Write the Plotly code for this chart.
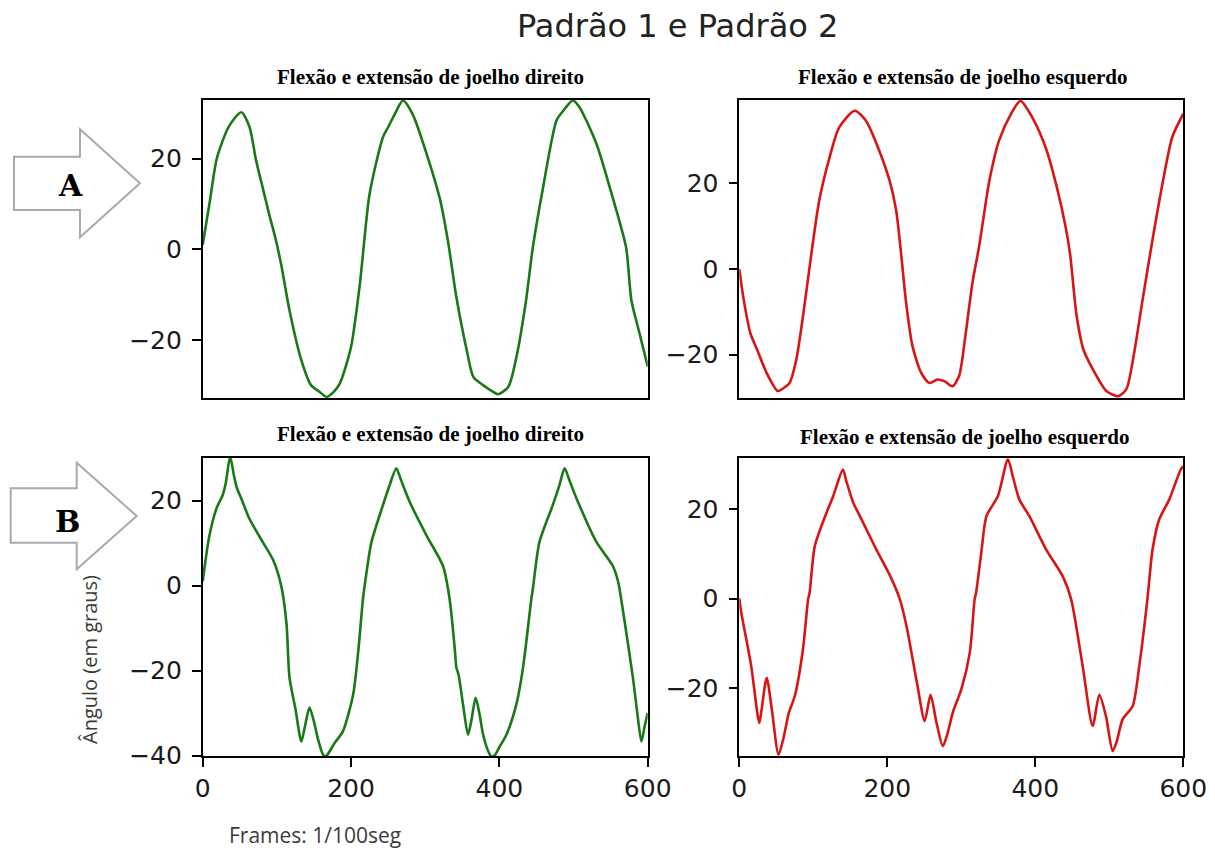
import plotly.graph_objects as go

# ---------------- data (frames, angle in degrees) ----------------
# Pattern A, right knee
a_dir_x = [0, 10, 19, 35, 52, 63, 72, 81, 90, 98, 106, 117, 133, 146, 157, 167, 176, 185, 200, 212, 225,
           243, 250, 259, 270, 283, 302, 320, 331, 342, 356, 365, 378, 390, 398, 412, 423, 436, 445,
           459, 477, 486, 499, 508, 531, 550, 556, 571, 578, 589, 600]
a_dir_y = [1, 11, 20, 27, 30.2, 27, 19.6, 13.5, 7.5, 2.5, -3.5, -13.4, -24.4, -29.9, -31.3, -32.5, -31.5,
           -29.5, -21.5, -7.5, 12.2, 24.7, 26.9, 29.8, 32.8, 29.8, 21, 11, 1.5, -10.5, -22.2, -28.1,
           -29.9, -31.2, -31.9, -30.3, -23.7, -11.2, 0.3, 13.7, 28.4, 30.5, 32.8, 31.3, 23.2, 13, 9.6,
           0.3, -11.2, -18.5, -25.8]

# Pattern A, left knee
a_esq_x = [0, 6, 15, 24, 37, 52, 60, 68, 77, 86, 95, 108, 122, 135, 156, 171, 189, 203, 212, 219,
           225, 234, 246, 257, 268, 277, 288, 297, 306, 315, 324, 338, 351, 367, 380, 396, 414, 428,
           441, 447, 456, 465, 478, 496, 512, 523, 532, 545, 556, 571, 585, 600]
a_esq_y = [0, -7.2, -15, -18.8, -24.3, -28.5, -27.8, -26.6, -21.2, -11.1, 0.5, 16, 26.1, 33.1, 37,
           34.7, 27.7, 20.7, 13.7, 3, -7.2, -18, -24.3, -26.6, -25.8, -26.2, -27.4, -25, -15, -3.3, 5.2,
           20.7, 30, 36.2, 39.3, 35.4, 28.4, 19.9, 9.8, 3.5, -11.1, -18.8, -23.5, -28.5, -29.7, -28.1,
           -21.2, -7.2, 4.4, 19.1, 30.8, 36.3]

# Pattern B, right knee
b_dir_x = [0, 9, 18.5, 27, 31, 37, 42, 46, 52, 63, 81, 95, 106, 113, 117, 125, 133, 138, 144, 150,
           156, 163, 167, 178, 189, 203, 210, 216, 220, 227.5, 243, 252, 261, 266, 270, 279, 302, 324,
           333, 340, 342, 345, 351, 357.7, 362, 368, 373, 378, 385, 389, 393.5, 400, 409.5, 423, 432,
           443, 445, 454, 472, 481, 488, 495, 504, 531, 553, 560, 565, 580, 586, 591.5, 596, 600]
b_dir_y = [1, 11.7, 18.1, 21.3, 24, 30.3, 26, 23, 20.5, 15.7, 10.2, 6, -0.2, -9, -21.6, -29, -36.7,
           -33, -28.7, -32, -36.5, -40, -40, -37, -34.3, -25.5, -15, -3.3, 2, 10.2, 18.9, 23.6, 27.6,
           25.5, 23.6, 19.7, 11.7, 4.6, -3.3, -15.2, -19.2, -21, -28, -35.1, -32, -26.4, -30, -35,
           -39, -40.2, -40, -38, -35.1, -27.9, -19.2, -3.3, -1, 10.2, 18.9, 23.6, 27.6, 24.5, 20.5,
           10.2, 4.6, 1, -4, -21.6, -30, -36.7, -33, -30]

# Pattern B, left knee
b_esq_x = [0, 2, 16, 27, 30, 37, 44, 53, 60, 67, 75, 86, 93, 95, 102, 116, 127, 140, 145, 154, 163,
           185, 204, 217, 226, 240, 250.5, 258.5, 266.5, 275, 280, 289, 300, 311.5, 318, 320, 327, 334,
           349.5, 363, 370, 378.5, 392, 414.5, 437, 448.5, 464, 477.5, 486.5, 495.5, 504.5, 510, 518,
           531.5, 540.5, 551.5, 558.5, 567.5, 581, 596.5, 600]
b_esq_y = [0, -2.5, -15, -27.8, -25, -17.7, -24.8, -34.9, -31, -25.5, -21.8, -11.4, -0.2, 1.3, 11.7,
           18.4, 22.9, 28.8, 26, 21.4, 18.4, 11, 5, -0.2, -6.2, -18.8, -27.4, -21.5, -27.8, -33, -31,
           -25.2, -20.3, -12.1, -0.2, 1.3, 10.2, 18.4, 22.9, 31.1, 27, 22.1, 18.4, 11, 5, -0.2, -15.1,
           -28.5, -21.5, -26.3, -34.1, -32, -27, -24.1, -15.1, -0.2, 11, 17.7, 22.1, 28.8, 29.5]

x_ticks = [0, 200, 400, 600]
titulo = "Padrão 1 e Padrão 2"
sub_dir = "Flexão e extensão de joelho direito"
sub_esq = "Flexão e extensão de joelho esquerdo"

# ---------------- layout helpers ----------------
W, H = 1215, 852


def fx(p):
    return p / W


def fy(p):
    return 1 - p / H


def minus(v):
    return str(v).replace("-", "\u2212")


GREEN = "#177a17"
RED = "#d81414"
TICKFONT = dict(family="DejaVu Sans", size=25, color="#1a1a1a")

fig = go.Figure()

panels = [
    (a_dir_x, a_dir_y, GREEN, "x", "y"),
    (a_esq_x, a_esq_y, RED, "x2", "y2"),
    (b_dir_x, b_dir_y, GREEN, "x3", "y3"),
    (b_esq_x, b_esq_y, RED, "x4", "y4"),
]
for xs, ys, col, xa, ya in panels:
    fig.add_trace(go.Scatter(x=xs, y=ys, mode="lines", xaxis=xa, yaxis=ya,
                             line=dict(color=col, width=2.6, shape="spline", smoothing=0.7),
                             showlegend=False, hoverinfo="skip"))

left_dom = [fx(202.7), fx(647.7)]
right_dom = [fx(739.3), fx(1183.3)]
top_dom = [fy(398.3), fy(100)]
bot_dom = [fy(756), fy(458)]

frame = dict(showline=True, mirror=True, linecolor="black", linewidth=1.6, automargin=False,
             showgrid=False, zeroline=False, tickcolor="black", tickwidth=1.6)


def xaxis(dom, anchor, labels):
    ax = dict(frame, domain=dom, anchor=anchor, range=[0, 600])
    if labels:
        ax.update(ticks="outside", ticklen=9, tickvals=x_ticks,
                  ticktext=[str(v) for v in x_ticks], tickfont=TICKFONT)
    else:
        ax.update(ticks="", showticklabels=False)
    return ax


def yaxis(dom, anchor, rng, vals):
    return dict(frame, domain=dom, anchor=anchor, range=rng, ticks="outside", ticklen=9,
                ticklabelstandoff=5, tickvals=vals, ticktext=[minus(v) for v in vals],
                tickfont=TICKFONT)


fig.update_layout(
    width=W, height=H, margin=dict(l=0, r=0, t=0, b=0, autoexpand=False),
    paper_bgcolor="white", plot_bgcolor="white",
    xaxis=xaxis(left_dom, "y", False),
    yaxis=yaxis(top_dom, "x", [-32.8, 32.9], [-20, 0, 20]),
    xaxis2=xaxis(right_dom, "y2", False),
    yaxis2=yaxis(top_dom, "x2", [-30.2, 39.5], [-20, 0, 20]),
    xaxis3=xaxis(left_dom, "y3", True),
    yaxis3=yaxis(bot_dom, "x3", [-40.1, 30.0], [-40, -20, 0, 20]),
    xaxis4=xaxis(right_dom, "y4", True),
    yaxis4=yaxis(bot_dom, "x4", [-35.2, 31.4], [-20, 0, 20]),
)

ann = []
ann.append(dict(text=titulo, x=fx(677), y=fy(26), xref="paper", yref="paper",
                xanchor="center", yanchor="middle", showarrow=False,
                font=dict(family="DejaVu Sans", size=32, color="#222222")))

serif_b = dict(family="Liberation Serif", size=21, color="black", weight="bold")
for txt, cx, base in [(sub_dir, 430, 85), (sub_esq, 963, 85), (sub_dir, 430, 442), (sub_esq, 965, 445)]:
    ann.append(dict(text=txt, x=fx(cx), y=fy(base + 6), xref="paper", yref="paper",
                    xanchor="center", yanchor="bottom", showarrow=False, font=serif_b))

side_font = dict(family="Open Sans", size=20, color="#3a3a3a")
ann.append(dict(text="Ângulo (em graus)", x=fx(89), y=fy(660), xref="paper", yref="paper",
                textangle=-90, xanchor="center", yanchor="middle", showarrow=False, font=side_font))
ann.append(dict(text="Frames: 1/100seg", x=fx(227), y=fy(835), xref="paper", yref="paper",
                xanchor="left", yanchor="middle", showarrow=False,
                font=dict(side_font, size=21)))

# block arrows marking the two patterns
shapes = []
arrow_pts = {
    "A": [(14, 156.7), (80, 156.7), (80, 129.3), (140, 183.3), (80, 237.3), (80, 210), (14, 210)],
    "B": [(10.7, 488.3), (76.7, 488.3), (76.7, 462.7), (136.7, 516), (76.7, 569.3), (76.7, 542.7),
          (10.7, 542.7)],
}
for pts in arrow_pts.values():
    path = "M " + " L ".join(f"{fx(a):.5f},{fy(b):.5f}" for a, b in pts) + " Z"
    shapes.append(dict(type="path", path=path, xref="paper", yref="paper",
                       line=dict(color="#a9a9a9", width=2), fillcolor="white"))

letter_font = dict(family="DejaVu Serif", size=30, color="black", weight="bold")
ann.append(dict(text="A", x=fx(70), y=fy(186), xref="paper", yref="paper", xanchor="center",
                yanchor="middle", showarrow=False, font=letter_font))
ann.append(dict(text="B", x=fx(67), y=fy(521), xref="paper", yref="paper", xanchor="center",
                yanchor="middle", showarrow=False, font=letter_font))

fig.update_layout(annotations=ann, shapes=shapes)
fig.write_html("out.html")
